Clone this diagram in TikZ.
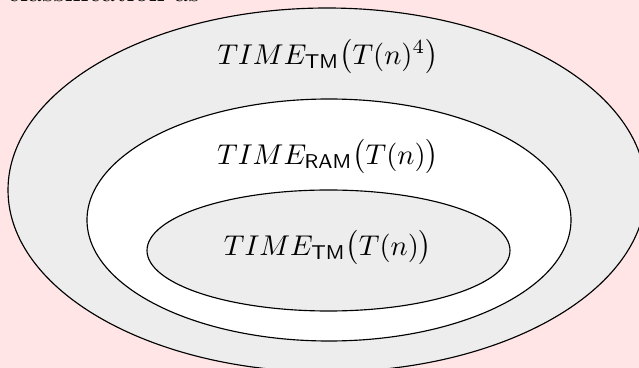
\documentclass[tikz,border=0pt]{standalone}
\usepackage{amsmath}
\usepackage{tikz}
\usetikzlibrary{shapes.geometric}
\definecolor{bgpink}{RGB}{255,229,229}
\definecolor{setgrey}{RGB}{237,237,237}

\begin{document}
\begin{tikzpicture}[
    x=0.35pt, y=-0.35pt,
    set/.style={draw, ellipse, inner sep=0pt, line width=0.4pt},
    lbl/.style={inner sep=1pt}
]
    \useasboundingbox (0,0) rectangle (639,368);
    \clip (0,0) rectangle (639,368);
    \fill[bgpink] (0,0) rectangle (639,368);
    \node[anchor=base east] (cap) at (210,2) {ns classification as};
    % nested classes
    \node[set, fill=setgrey, minimum width=223.3pt, minimum height=127.4pt] (outer) at (327,190) {};
    \node[set, fill=white,   minimum width=169.4pt, minimum height=84.7pt]  (middle) at (329,220) {};
    \node[set, fill=setgrey, minimum width=127.05pt, minimum height=42.35pt] (inner) at (328.5,250.5) {};
    \node[lbl] (tmfour) at (328,57)  {$TIME_{\textsf{TM}}\bigl(T(n)^4\bigr)$};
    \node[lbl] (ram)    at (328,157) {$TIME_{\textsf{RAM}}\bigl(T(n)\bigr)$};
    \node[lbl] (tm)     at (328,248) {$TIME_{\textsf{TM}}\bigl(T(n)\bigr)$};
\end{tikzpicture}
\end{document}
